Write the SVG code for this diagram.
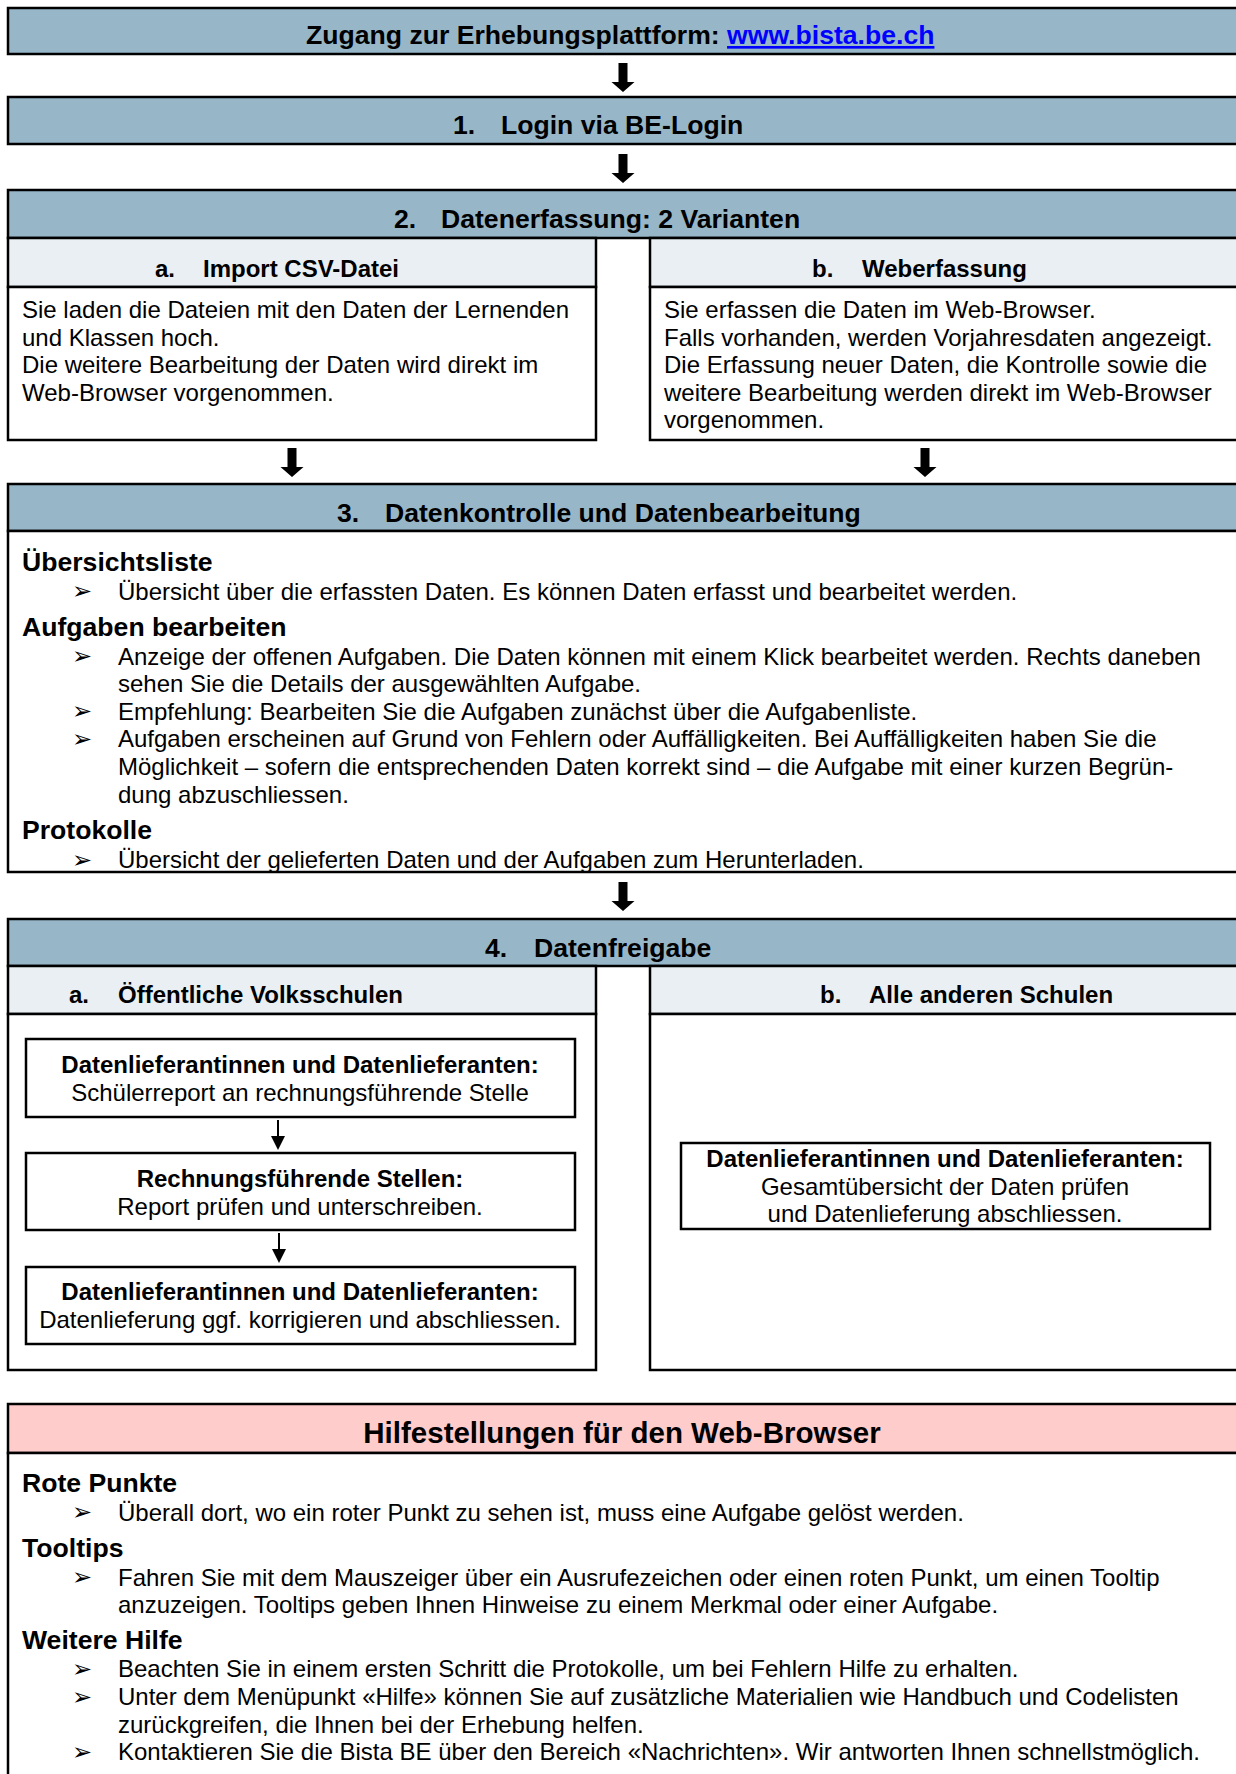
<svg xmlns="http://www.w3.org/2000/svg" width="1236" height="1774" viewBox="0 0 1236 1774">
<style>
.bar{fill:#97b7c8;stroke:#000;stroke-width:2.5}
.sub{fill:#e9eff3;stroke:#000;stroke-width:2.5}
.body{fill:#fff;stroke:#000;stroke-width:2.5}
.pink{fill:#ffcccc;stroke:#000;stroke-width:2.5}
.inner{fill:#fff;stroke:#000;stroke-width:2.5}
text{font-family:"Liberation Sans",Arial,sans-serif;fill:#000}
.h{font-size:26.6px;font-weight:bold}
.hp{font-size:29.5px;font-weight:bold}
.s{font-size:24px;font-weight:bold}
.t{font-size:24px}
.tb{font-size:24px;font-weight:bold}
.c{text-anchor:middle}
.bl{font-family:"DejaVu Sans",sans-serif;font-size:24px}
.arrow{fill:#000}
.thin{stroke:#000;stroke-width:2;fill:none}
</style>
<rect width="1236" height="1774" fill="#fff"/>

<g id="access">
<rect class="bar" x="8" y="8" width="1240" height="46"/>
<text class="h" x="306" y="44">Zugang zur Erhebungsplattform: <tspan fill="#0000ff" text-decoration="underline">www.bista.be.ch</tspan></text>
</g>

<g id="step1">
<rect class="bar" x="8" y="97" width="1240" height="47"/>
<text class="h" x="453" y="133.5">1.</text>
<text class="h" x="501" y="133.5">Login via BE-Login</text>
</g>

<g id="step2">
<rect class="bar" x="8" y="190" width="1240" height="48"/>
<text class="h" x="394" y="227.5">2.</text>
<text class="h" x="441" y="227.5">Datenerfassung: 2 Varianten</text>
</g>

<g id="step2a">
<rect class="sub" x="8" y="238" width="588" height="49"/>
<rect class="body" x="8" y="287" width="588" height="153"/>
<text class="s" x="155" y="277">a.</text>
<text class="s" x="203" y="277">Import CSV-Datei</text>
<text class="t" x="22" y="318">Sie laden die Dateien mit den Daten der Lernenden</text>
<text class="t" x="22" y="345.5">und Klassen hoch.</text>
<text class="t" x="22" y="373">Die weitere Bearbeitung der Daten wird direkt im</text>
<text class="t" x="22" y="400.5">Web-Browser vorgenommen.</text>
</g>

<g id="step2b">
<rect class="sub" x="650" y="238" width="600" height="49"/>
<rect class="body" x="650" y="287" width="600" height="153"/>
<text class="s" x="812" y="277">b.</text>
<text class="s" x="862" y="277">Weberfassung</text>
<text class="t" x="664" y="318">Sie erfassen die Daten im Web-Browser.</text>
<text class="t" x="664" y="345.5">Falls vorhanden, werden Vorjahresdaten angezeigt.</text>
<text class="t" x="664" y="373">Die Erfassung neuer Daten, die Kontrolle sowie die</text>
<text class="t" x="664" y="400.5">weitere Bearbeitung werden direkt im Web-Browser</text>
<text class="t" x="664" y="428">vorgenommen.</text>
</g>

<g id="step3">
<rect class="bar" x="8" y="484" width="1240" height="47"/>
<rect class="body" x="8" y="531" width="1240" height="341"/>
<text class="h" x="337" y="521.5">3.</text>
<text class="h" x="385" y="521.5">Datenkontrolle und Datenbearbeitung</text>
<text class="h" x="22" y="571">Übersichtsliste</text>
<text class="bl" x="72" y="599">➢</text>
<text class="t" x="118" y="600">Übersicht über die erfassten Daten. Es können Daten erfasst und bearbeitet werden.</text>
<text class="h" x="22" y="636">Aufgaben bearbeiten</text>
<text class="bl" x="72" y="664">➢</text>
<text class="t" x="118" y="664.5">Anzeige der offenen Aufgaben. Die Daten können mit einem Klick bearbeitet werden. Rechts daneben</text>
<text class="t" x="118" y="692">sehen Sie die Details der ausgewählten Aufgabe.</text>
<text class="bl" x="72" y="719">➢</text>
<text class="t" x="118" y="719.5">Empfehlung: Bearbeiten Sie die Aufgaben zunächst über die Aufgabenliste.</text>
<text class="bl" x="72" y="747">➢</text>
<text class="t" x="118" y="747">Aufgaben erscheinen auf Grund von Fehlern oder Auffälligkeiten. Bei Auffälligkeiten haben Sie die</text>
<text class="t" x="118" y="775">Möglichkeit – sofern die entsprechenden Daten korrekt sind – die Aufgabe mit einer kurzen Begrün-</text>
<text class="t" x="118" y="802.5">dung abzuschliessen.</text>
<text class="h" x="22" y="839">Protokolle</text>
<text class="bl" x="72" y="868">➢</text>
<text class="t" x="118" y="868">Übersicht der gelieferten Daten und der Aufgaben zum Herunterladen.</text>
</g>

<g id="step4">
<rect class="bar" x="8" y="919" width="1240" height="47"/>
<text class="h" x="485" y="956.5">4.</text>
<text class="h" x="534" y="956.5">Datenfreigabe</text>
</g>

<g id="step4a">
<rect class="sub" x="8" y="966" width="588" height="48"/>
<rect class="body" x="8" y="1014" width="588" height="356"/>
<text class="s" x="69" y="1003">a.</text>
<text class="s" x="118" y="1003">Öffentliche Volksschulen</text>
</g>

<g id="box4a1">
<rect class="inner" x="26" y="1039" width="549" height="78"/>
<text class="tb c" x="300" y="1073">Datenlieferantinnen und Datenlieferanten:</text>
<text class="t c" x="300" y="1101">Schülerreport an rechnungsführende Stelle</text>
</g>

<g id="box4a2">
<rect class="inner" x="26" y="1153" width="549" height="77"/>
<text class="tb c" x="300" y="1187">Rechnungsführende Stellen:</text>
<text class="t c" x="300" y="1215">Report prüfen und unterschreiben.</text>
</g>

<g id="box4a3">
<rect class="inner" x="26" y="1267" width="549" height="77"/>
<text class="tb c" x="300" y="1300">Datenlieferantinnen und Datenlieferanten:</text>
<text class="t c" x="300" y="1328">Datenlieferung ggf. korrigieren und abschliessen.</text>
</g>

<g id="step4b">
<rect class="sub" x="650" y="966" width="600" height="48"/>
<rect class="body" x="650" y="1014" width="600" height="356"/>
<text class="s" x="820" y="1003">b.</text>
<text class="s" x="869" y="1003">Alle anderen Schulen</text>
</g>

<g id="box4b1">
<rect class="inner" x="681" y="1143" width="529" height="86"/>
<text class="tb c" x="945" y="1167">Datenlieferantinnen und Datenlieferanten:</text>
<text class="t c" x="945" y="1195">Gesamtübersicht der Daten prüfen</text>
<text class="t c" x="945" y="1222">und Datenlieferung abschliessen.</text>
</g>

<g id="help">
<rect class="pink" x="8" y="1404" width="1240" height="49"/>
<rect class="body" x="8" y="1453" width="1240" height="340"/>
<text class="hp c" x="622" y="1443">Hilfestellungen für den Web-Browser</text>
<text class="h" x="22" y="1492">Rote Punkte</text>
<text class="bl" x="72" y="1520">➢</text>
<text class="t" x="118" y="1521">Überall dort, wo ein roter Punkt zu sehen ist, muss eine Aufgabe gelöst werden.</text>
<text class="h" x="22" y="1557">Tooltips</text>
<text class="bl" x="72" y="1585">➢</text>
<text class="t" x="118" y="1586">Fahren Sie mit dem Mauszeiger über ein Ausrufezeichen oder einen roten Punkt, um einen Tooltip</text>
<text class="t" x="118" y="1613">anzuzeigen. Tooltips geben Ihnen Hinweise zu einem Merkmal oder einer Aufgabe.</text>
<text class="h" x="22" y="1649">Weitere Hilfe</text>
<text class="bl" x="72" y="1677">➢</text>
<text class="t" x="118" y="1677">Beachten Sie in einem ersten Schritt die Protokolle, um bei Fehlern Hilfe zu erhalten.</text>
<text class="bl" x="72" y="1705">➢</text>
<text class="t" x="118" y="1705">Unter dem Menüpunkt «Hilfe» können Sie auf zusätzliche Materialien wie Handbuch und Codelisten</text>
<text class="t" x="118" y="1733">zurückgreifen, die Ihnen bei der Erhebung helfen.</text>
<text class="bl" x="72" y="1760">➢</text>
<text class="t" x="118" y="1760">Kontaktieren Sie die Bista BE über den Bereich «Nachrichten». Wir antworten Ihnen schnellstmöglich.</text>
</g>

<g id="connectors">
<path class="arrow" d="M618.5,63 h9 v19 h7 l-11.5,10 l-11.5,-10 h7 z"/>
<path class="arrow" d="M618.5,154 h9 v19 h7 l-11.5,10 l-11.5,-10 h7 z"/>
<path class="arrow" d="M287.5,448 h9 v19 h7 l-11.5,10 l-11.5,-10 h7 z"/>
<path class="arrow" d="M920.5,448 h9 v19 h7 l-11.5,10 l-11.5,-10 h7 z"/>
<path class="arrow" d="M618.5,882 h9 v19 h7 l-11.5,10 l-11.5,-10 h7 z"/>
<line class="thin" x1="278" y1="1120" x2="278" y2="1138"/>
<path class="arrow" d="M271,1136 h14 l-7,14 z"/>
<line class="thin" x1="279" y1="1233" x2="279" y2="1251"/>
<path class="arrow" d="M272,1249 h14 l-7,14 z"/>
</g>
</svg>
